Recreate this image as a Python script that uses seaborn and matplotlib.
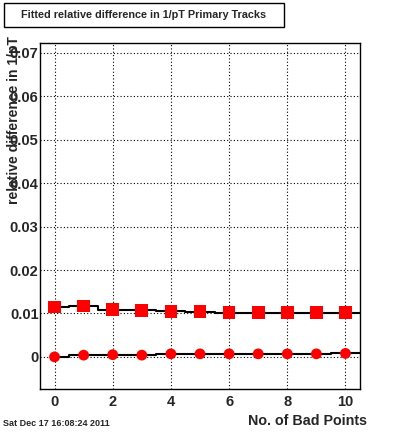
import numpy as np
import pandas as pd
import matplotlib
matplotlib.use("Agg")
import matplotlib.pyplot as plt
from matplotlib.ticker import MultipleLocator
from matplotlib.patches import Rectangle
import seaborn as sns

# values
bad_points = [0, 1, 2, 3, 4, 5, 6, 7, 8, 9, 10]
sigma_vals = [0.0115, 0.0117, 0.0109, 0.0107, 0.0105, 0.0104, 0.0102, 0.0102, 0.0102, 0.0102, 0.0102]
mean_vals = [0.0000, 0.0004, 0.0005, 0.0004, 0.0007, 0.0007, 0.0007, 0.0007, 0.0007, 0.0007, 0.0008]
sigma_err = [0.0003] * 11
mean_err = [0.0002] * 11

sns.set_style("white")
plt.rcParams["font.family"] = ["Liberation Sans", "DejaVu Sans"]
plt.rcParams["font.weight"] = "bold"

sig_df = pd.DataFrame({"x": bad_points, "y": sigma_vals})
mean_df = pd.DataFrame({"x": bad_points, "y": mean_vals})

fig = plt.figure(figsize=(4, 4.33), dpi=100)
ax = fig.add_axes([0.1, 0.1016, 0.8, 0.7991])

# histogram-like black steps with error bars
for vals, errs in [(sigma_vals, sigma_err), (mean_vals, mean_err)]:
    ax.step(bad_points, vals, where="mid", color="black", lw=1.5, zorder=2)
    ax.plot([bad_points[-1], bad_points[-1] + 0.5], [vals[-1], vals[-1]], color="black", lw=1.5)
    ax.errorbar(bad_points, vals, yerr=errs, fmt="none", ecolor="black", elinewidth=1.5, capsize=0, zorder=2)

sns.scatterplot(data=sig_df, x="x", y="y", marker="s", color="#ff0000", edgecolor="none",
                s=85, legend=False, ax=ax, zorder=3)
sns.scatterplot(data=mean_df, x="x", y="y", marker="o", color="#ff0000", edgecolor="none",
                s=60, legend=False, ax=ax, zorder=3)

ax.set_xlim(-0.5, 10.5)
ax.set_ylim(-0.0074, 0.0723)
ax.xaxis.set_major_locator(MultipleLocator(2))
ax.xaxis.set_minor_locator(MultipleLocator(0.5))
ax.yaxis.set_minor_locator(MultipleLocator(0.002))
ax.set_yticks([0, 0.01, 0.02, 0.03, 0.04, 0.05, 0.06, 0.07])
ax.set_yticklabels(["0", "0.01", "0.02", "0.03", "0.04", "0.05", "0.06", "0.07"])
ax.grid(True, which="major", color="black", linestyle=(0, (1, 2)), linewidth=0.8)
ax.tick_params(which="both", direction="in", top=False, right=False, labelsize=10.5, width=1)
ax.tick_params(axis="y", pad=1)
ax.tick_params(axis="x", pad=4)
ax.tick_params(which="major", length=10)
ax.tick_params(which="minor", length=5)
for lab in ax.get_xticklabels() + ax.get_yticklabels():
    lab.set_fontweight("bold")
for sp in ax.spines.values():
    sp.set_color("black")
    sp.set_linewidth(1)

ax.set_xlabel("")
ax.set_ylabel("")
fig.text(0.918, 0.012, "No. of Bad Points", ha="right", va="bottom", fontsize=10.3, fontweight="bold")
fig.text(0.036, 0.917, "relative difference in 1/pT", rotation=90, ha="center", va="top",
         fontsize=10, fontweight="bold")
fig.text(0.008, 0.011, "Sat Dec 17 16:08:24 2011", ha="left", va="bottom", fontsize=6.5, fontweight="bold")

# title box
fig.patches.append(Rectangle((0.01, 1 - 27 / 433), 0.7, 24 / 433, transform=fig.transFigure,
                             facecolor="white", edgecolor="black", linewidth=1))
fig.text(0.358, 1 - 15 / 433, "Fitted relative difference in 1/pT Primary Tracks", ha="center", va="center",
         fontsize=7.8, fontweight="bold")

fig.savefig("out.png", dpi=100)
